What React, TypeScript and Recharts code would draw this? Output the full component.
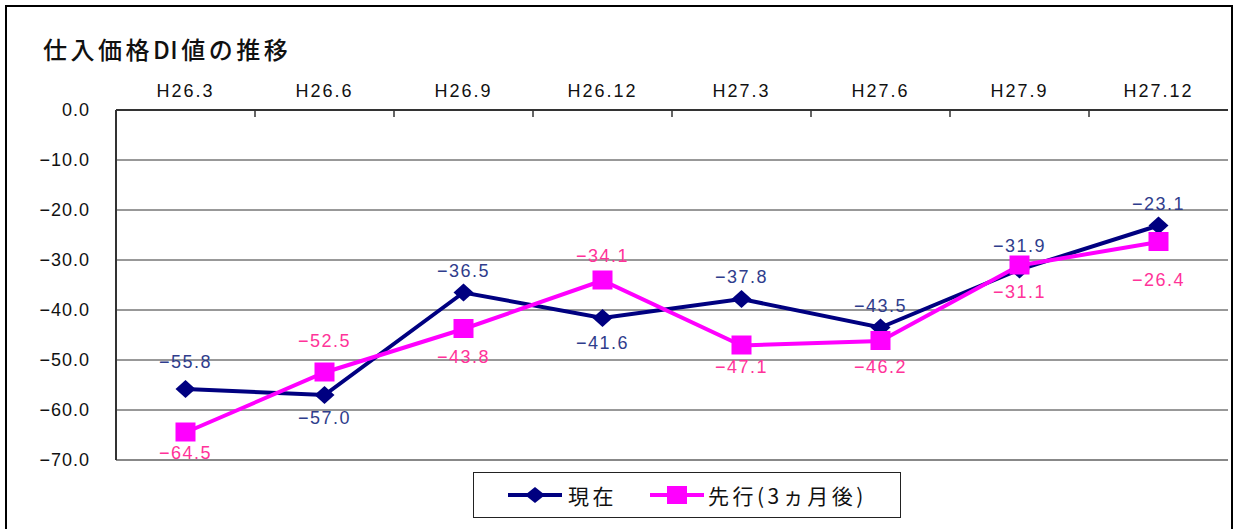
import React from "react";
import { LineChart, Line, XAxis, YAxis, CartesianGrid, ReferenceLine, LabelList, Legend } from "recharts";

const categories = ["H26.3", "H26.6", "H26.9", "H26.12", "H27.3", "H27.6", "H27.9", "H27.12"];
const currentValues = [-55.8, -57.0, -36.5, -41.6, -37.8, -43.5, -31.9, -23.1];
const forecastValues = [-64.5, -52.5, -43.8, -34.1, -47.1, -46.2, -31.1, -26.4];
const yTicks = [0, -10, -20, -30, -40, -50, -60, -70];
const seriesNames = ["現在", "先行(3ヵ月後)"];

// label offsets (negative = above the point)
const currentLabelDy = [-27, 23, -22, 25, -22, -22, -24, -22];
const forecastLabelDy = [20, -32, 28, -25, 21, 26, 26, 38];

const data = categories.map((c, i) => ({ cat: c, cur: currentValues[i], fwd: forecastValues[i] }));

const NUM_FONT = "'Liberation Sans', 'Noto Sans CJK JP', sans-serif";
const CJK_FONT = "'Noto Sans CJK JP', 'Liberation Sans', sans-serif";
const HALF_BAND = (1228 - 116) / categories.length / 2;

const fmt = (v: number) => (v < 0 ? "\u2212" + Math.abs(v).toFixed(1) : v.toFixed(1));

const XTick = (props: any) => {
  const { x, y, payload, index } = props;
  return (
    <g>
      <text x={x} y={y - 13} textAnchor="middle" fontSize={18} fontFamily={NUM_FONT} fill="#111" letterSpacing={2}>
        {payload.value}
      </text>
      {index < categories.length - 1 && (
        <line x1={x + HALF_BAND} x2={x + HALF_BAND} y1={y} y2={y + 7} stroke="#333" strokeWidth={1.5} />
      )}
    </g>
  );
};

const Diamond = (props: any) => {
  const { cx, cy } = props;
  if (cx == null || cy == null) return null;
  return <polygon points={`${cx - 10},${cy} ${cx},${cy - 9} ${cx + 10},${cy} ${cx},${cy + 9}`} fill="#000080" />;
};

const Square = (props: any) => {
  const { cx, cy } = props;
  if (cx == null || cy == null) return null;
  return <rect x={cx - 10} y={cy - 10} width={20} height={19} fill="#ff00ff" />;
};

const makeLabel = (dys: number[], color: string) => (props: any) => {
  const { x, y, value, index } = props;
  return (
    <text x={x} y={y + dys[index]} dy={6} textAnchor="middle" fontSize={18} fontFamily={NUM_FONT} fill={color} letterSpacing={1.5}>
      {fmt(value)}
    </text>
  );
};

const LegendBox = () => (
  <div
    style={{
      width: 426,
      height: 44,
      border: "1px solid #222",
      background: "#fff",
      display: "flex",
      alignItems: "center",
      fontFamily: CJK_FONT,
      fontSize: 21,
      letterSpacing: 3.5,
      color: "#111",
      boxSizing: "content-box",
      whiteSpace: "nowrap",
    }}
  >
    <svg width={60} height={20} style={{ marginLeft: 34, flexShrink: 0 }}>
      <line x1={0} x2={54} y1={10} y2={10} stroke="#000080" strokeWidth={4} />
      <polygon points="17,10 27,2 37,10 27,18" fill="#000080" />
    </svg>
    <span>{seriesNames[0]}</span>
    <svg width={56} height={20} style={{ marginLeft: 33, flexShrink: 0 }}>
      <line x1={0} x2={54} y1={10} y2={10} stroke="#ff00ff" strokeWidth={4} />
      <rect x={17} y={1} width={20} height={18} fill="#ff00ff" />
    </svg>
    <span style={{ marginLeft: 2 }}>{seriesNames[1]}</span>
  </div>
);

export default function App() {
  return (
    <div style={{ position: "absolute", left: 0, top: 0, width: 1236, height: 529, background: "#fff", overflow: "hidden" }}>
      <div
        style={{
          position: "absolute",
          left: 5,
          top: 5,
          width: 1224,
          height: 540,
          border: "2px solid #000",
        }}
      />
      <div
        style={{
          position: "absolute",
          left: 43,
          top: 31,
          fontFamily: CJK_FONT,
          fontSize: 24,
          fontWeight: 500,
          letterSpacing: 3.5,
          color: "#111",
        }}
      >
        仕入価格<span style={{ letterSpacing: 0.5 }}>D</span>I値の推移
      </div>
      <div style={{ position: "absolute", left: 0, top: 0 }}>
        <LineChart width={1236} height={529} data={data} margin={{ top: 80, right: 8, bottom: 69, left: 0 }}>
          <CartesianGrid vertical={false} stroke="#333" strokeWidth={1} />
          <XAxis
            dataKey="cat"
            orientation="top"
            scale="band"
            height={30}
            tickSize={0}
            tickMargin={0}
            tickLine={false}
            axisLine={{ stroke: "#333", strokeWidth: 2 }}
            tick={<XTick />}
            interval={0}
          />
          <YAxis
            type="number"
            domain={[-70, 0]}
            ticks={yTicks}
            width={116}
            tickSize={0}
            tickMargin={26}
            tickLine={false}
            axisLine={{ stroke: "#333", strokeWidth: 2 }}
            tickFormatter={fmt}
            tick={{ fontSize: 18, fontFamily: NUM_FONT, fill: "#111", letterSpacing: 1 }}
          />
          <YAxis
            yAxisId="r"
            orientation="right"
            type="number"
            domain={[-70, 0]}
            width={0}
            tick={false}
            tickLine={false}
            axisLine={{ stroke: "#888", strokeWidth: 2 }}
          />
          <ReferenceLine y={-70} stroke="#888" strokeWidth={2} />
          <Legend
            verticalAlign="middle"
            align="center"
            layout="horizontal"
            wrapperStyle={{ left: 473, top: 472, width: 428, height: 46 }}
            content={<LegendBox />}
          />
          <Line
            dataKey="cur"
            name={seriesNames[0]}
            stroke="#000080"
            strokeWidth={4}
            dot={<Diamond />}
            activeDot={false}
            isAnimationActive={false}
          >
            <LabelList dataKey="cur" content={makeLabel(currentLabelDy, "#2f3d8c")} />
          </Line>
          <Line
            dataKey="fwd"
            name={seriesNames[1]}
            stroke="#ff00ff"
            strokeWidth={4}
            dot={<Square />}
            activeDot={false}
            isAnimationActive={false}
          >
            <LabelList dataKey="fwd" content={makeLabel(forecastLabelDy, "#ff3399")} />
          </Line>
        </LineChart>
      </div>
    </div>
  );
}
